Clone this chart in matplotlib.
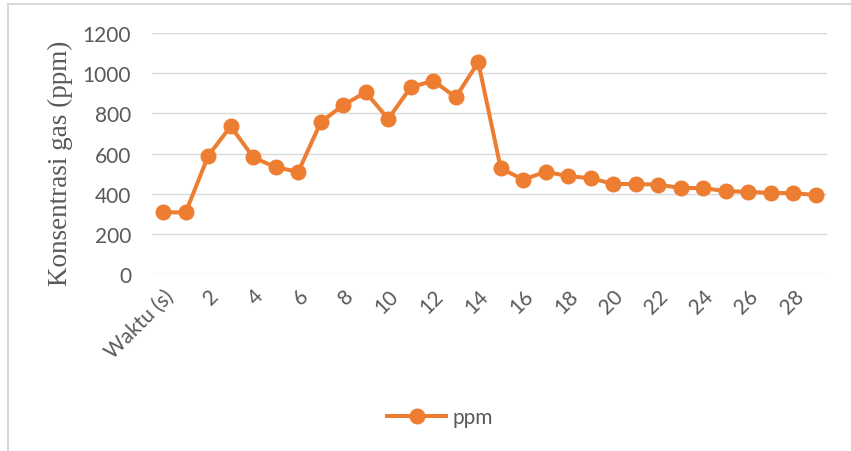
import matplotlib
matplotlib.use("Agg")
import matplotlib.pyplot as plt
from matplotlib.lines import Line2D

categories = ["Waktu (s)"] + [str(i) for i in range(1, 30)]
ppm = [308, 308, 590, 736, 582, 532, 510, 756, 842, 905,
       773, 930, 963, 880, 1055, 527, 471, 510, 488, 478,
       449, 449, 446, 429, 429, 413, 411, 404, 404, 394]
yticks = [0, 200, 400, 600, 800, 1000, 1200]
series_name = "ppm"
ylabel = "Konsentrasi gas (ppm)"

W, H = 851, 452
fig = plt.figure(figsize=(W / 100, H / 100), dpi=100)
ax = fig.add_axes([152 / W, 1 - 275.3 / H, (827 - 152) / W, (275.3 - 34) / H])

orange = "#ED7D31"
x = list(range(len(categories)))
ax.plot(x, ppm, color=orange, lw=2.9, marker="o", ms=10.5,
        markerfacecolor=orange, markeredgecolor=orange, solid_capstyle="round")

ax.set_xlim(-0.5, len(categories) - 0.5)
ax.set_ylim(0, 1200)
ax.set_yticks(yticks)
ax.set_yticklabels([str(v) for v in yticks], fontsize=15, color="#595959", family="Lato")
ax.yaxis.grid(True, color="#D9D9D9", lw=1.0)
ax.set_axisbelow(True)
ax.tick_params(axis="both", length=0)
ax.tick_params(axis="y", pad=15)

show = list(range(0, len(categories), 2))
ax.set_xticks(show)
ax.set_xticklabels([categories[i] for i in show], rotation=45, ha="right",
                   rotation_mode="anchor", fontsize=15, color="#595959", family="Lato")
ax.tick_params(axis="x", pad=8)
for s in ax.spines.values():
    s.set_visible(False)

fig.text(60 / W, 1 - 163 / H, ylabel, rotation=90, ha="center", va="center",
         fontsize=19.5, color="#595959", family="Liberation Serif")

handle = Line2D([], [], color=orange, lw=2.9, marker="o", ms=10.5)
fig.legend([handle], [series_name], loc="center", bbox_to_anchor=(440 / W, 1 - 418 / H),
           frameon=False, prop={"family": "Lato", "size": 15}, handlelength=2.8,
           labelcolor="#595959", handletextpad=0.3)

# chart border (top and left visible)
fig.add_artist(Line2D([8 / W, 1], [1 - 5 / H, 1 - 5 / H], color="#D9D9D9", lw=1.5))
fig.add_artist(Line2D([8 / W, 8 / W], [0, 1 - 5 / H], color="#D9D9D9", lw=1.5))

fig.savefig("out.png", dpi=100)
